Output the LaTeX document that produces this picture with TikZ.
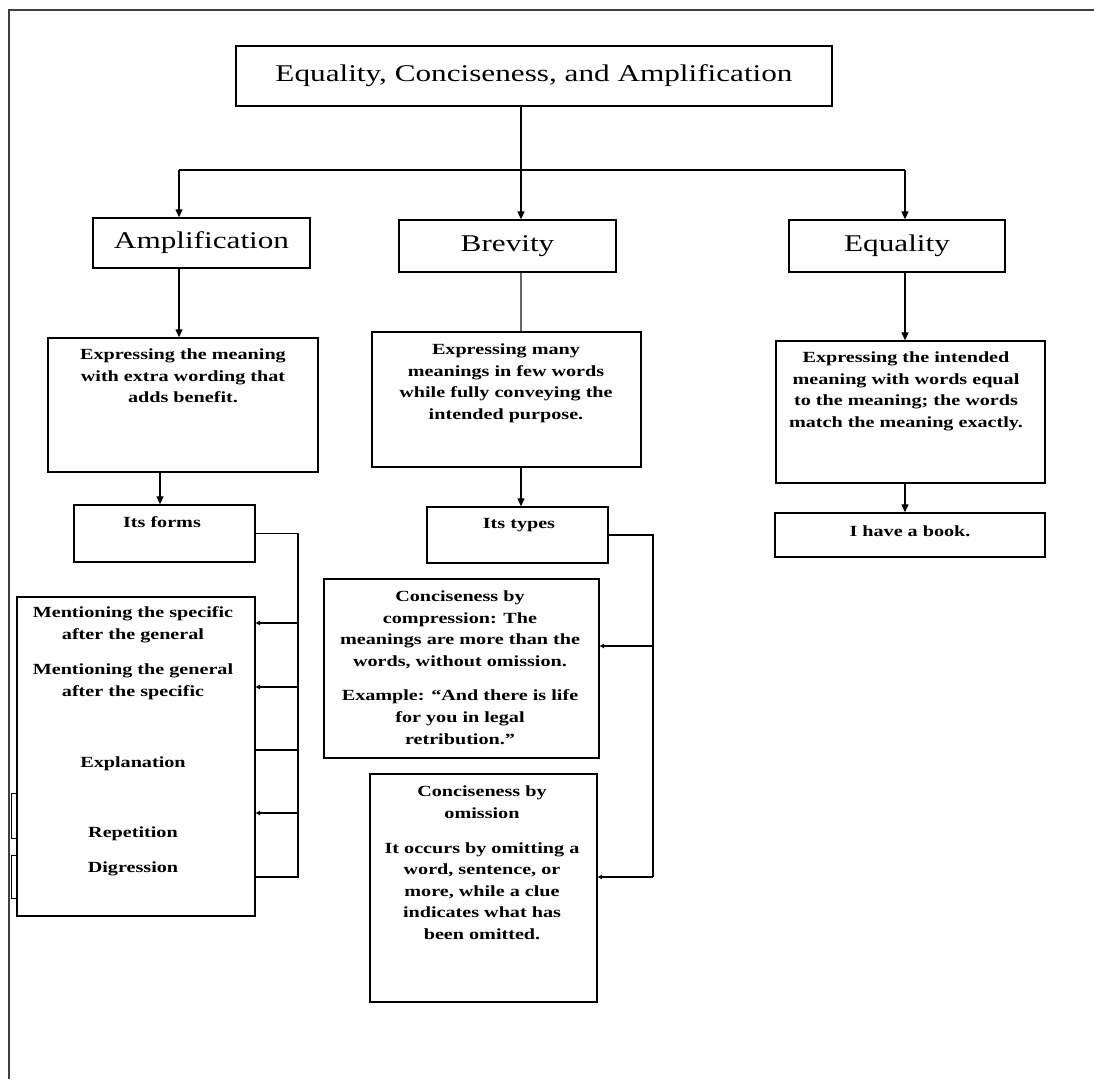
\documentclass[tikz,border=0pt]{standalone}
\usepackage{fontspec}
\setmainfont{Liberation Serif}
\newfontfamily\ttlfont[FakeStretch=1.3]{Liberation Serif}
\newfontfamily\bdfont[FakeStretch=1.3]{Liberation Serif}
\usetikzlibrary{arrows.meta}
\begin{document}
\begin{tikzpicture}[x=1pt,y=-1pt,
  every path/.style={line width=1.3pt},
  box/.style={draw, line width=1.4pt, inner sep=0pt, align=center},
  head/.style={box, font=\ttlfont\fontsize{24}{28}\selectfont},
  txt/.style={inner sep=0pt, align=center, anchor=north, font=\bdfont\bfseries\fontsize{15.5}{21.6}\selectfont},
  arr/.style={-{Triangle[length=8pt,width=7pt]}},
  sarr/.style={-{Triangle[length=4.5pt,width=4.5pt]}}
]
\useasboundingbox (0,0) rectangle (1094,1079);
% page frame
\draw[line width=1.6pt, black!75] (9,1079) -- (9,10) -- (1094,10);

% title and headings
\node[head, minimum width=596pt, minimum height=60pt] (title) at (534,76) {\raisebox{4pt}{Equality, Conciseness, and Amplification}};
\node[head, minimum width=217pt, minimum height=50pt] (amp) at (201.5,243) {Amplification};
\node[head, minimum width=217pt, minimum height=52pt] (brev) at (507.5,246) {Brevity};
\node[head, minimum width=216pt, minimum height=52pt] (equ) at (897,246) {Equality};

% description boxes
\node[box, minimum width=270pt, minimum height=134pt] (ampdesc) at (183,405) {};
\node[txt] (ampdesc-t) at (183,348) {Expressing the meaning\\with extra wording that\\adds benefit.};
\node[box, minimum width=269pt, minimum height=135pt] (brevdesc) at (506.5,399.5) {};
\node[txt] (brevdesc-t) at (506,343) {Expressing many\\meanings in few words\\while fully conveying the\\intended purpose.};
\node[box, minimum width=269pt, minimum height=142pt] (equdesc) at (910.5,412) {};
\node[txt] (equdesc-t) at (906,351) {Expressing the intended\\meaning with words equal\\to the meaning; the words\\match the meaning exactly.};

% forms / types / example
\node[box, minimum width=181pt, minimum height=57pt] (forms) at (164.5,533.5) {};
\node[txt] (forms-t) at (162,516) {Its forms};
\node[box, minimum width=181pt, minimum height=56pt] (types) at (517.5,535) {};
\node[txt] (types-t) at (519,518) {Its types};
\node[box, minimum width=270pt, minimum height=44pt] (book) at (910,535) {};
\node[txt] (book-t) at (910,525) {I have a book.};

% list of forms
\node[box, minimum width=238pt, minimum height=319pt] (list) at (136,756.5) {};
\node[txt] (l1) at (133,606) {Mentioning the specific\\after the general};
\node[txt] (l2) at (133,663) {Mentioning the general\\after the specific};
\node[txt] (l3) at (133,756) {Explanation};
\node[txt] (l4) at (133,826) {Repetition};
\node[txt] (l5) at (133,861) {Digression};
\draw[line width=1pt] (11,793) rectangle (17,838);
\draw[line width=1pt] (11,855) rectangle (17,898);

% types boxes
\node[box, minimum width=275pt, minimum height=179pt] (comp) at (461.5,668.5) {};
\node[txt] (comp-t) at (460,590) {Conciseness by\\compression: The\\meanings are more than the\\words, without omission.\\[13pt]Example: \textquotedblleft And there is life\\for you in legal\\retribution.\textquotedblright};
\node[box, minimum width=227pt, minimum height=228pt] (omis) at (483.5,888) {};
\node[txt] (omis-t) at (482,785) {Conciseness by\\omission\\[13.5pt]It occurs by omitting a\\word, sentence, or\\more, while a clue\\indicates what has\\been omitted.};

% connector coordinates
\coordinate (jt) at (521,170);
\coordinate (jl) at (179,170);
\coordinate (jr) at (905,170);
\coordinate (jf) at (160,0);
\coordinate (fb) at (298,877);
\coordinate (f1) at (298,623);
\coordinate (f2) at (298,687);
\coordinate (f3) at (298,750);
\coordinate (f4) at (298,813);
\coordinate (tb) at (653,877);
\coordinate (t1) at (653,646);

% connectors
\draw[arr] (title.south -| jt) -- (brev.north -| jt);
\draw (jl) -- (jr);
\draw[arr] (jl) -- (amp.north -| jl);
\draw[arr] (jr) -- (equ.north -| jr);
\draw[arr] (amp.south -| jl) -- (ampdesc.north -| jl);
\draw[black!60] (brev.south -| jt) -- (brevdesc.north -| jt);
\draw[arr] (equ.south -| jr) -- (equdesc.north -| jr);
\draw[arr] (ampdesc.south -| jf) -- (forms.north -| jf);
\draw[arr] (brevdesc.south -| jt) -- (types.north -| jt);
\draw[arr] (equdesc.south -| jr) -- (book.north -| jr);

\draw (forms.east) -- (forms.east -| fb) -- (fb) -- (fb -| list.east);
\draw[sarr] (f1) -- (f1 -| list.east);
\draw[sarr] (f2) -- (f2 -| list.east);
\draw (f3) -- (f3 -| list.east);
\draw[sarr] (f4) -- (f4 -| list.east);

\draw (types.east) -- (types.east -| tb) -- (tb);
\draw[sarr] (tb) -- (tb -| omis.east);
\draw[sarr] (t1) -- (t1 -| comp.east);
\end{tikzpicture}
\end{document}
